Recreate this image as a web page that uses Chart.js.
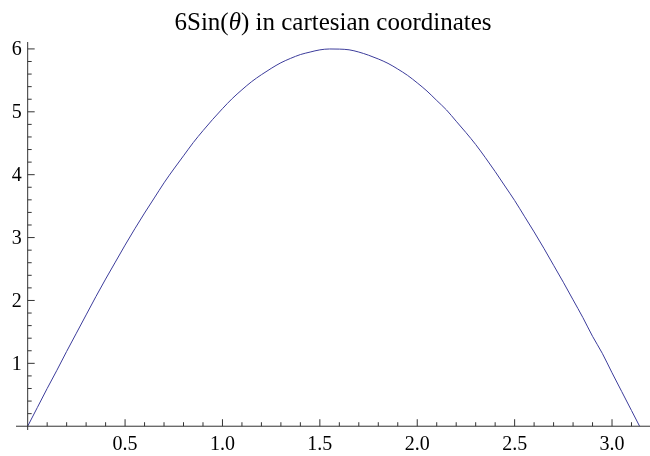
<!DOCTYPE html>
<html>
<head>
<meta charset="utf-8">
<style>
  html, body { margin: 0; padding: 0; background: #fff; }
  #wrap { width: 650px; height: 456px; position: relative; }
</style>
<script src="https://cdn.jsdelivr.net/npm/chart.js@4/dist/chart.umd.min.js"></script>
</head>
<body>
<div id="wrap"><canvas id="sinChart"></canvas></div>
<script>
// values (theta, height)
const thetaValues = [0, 0.05, 0.1, 0.15, 0.2, 0.25, 0.3, 0.35, 0.4, 0.45, 0.5, 0.55, 0.6, 0.65, 0.7, 0.75,
  0.8, 0.85, 0.9, 0.95, 1.0, 1.05, 1.1, 1.15, 1.2, 1.25, 1.3, 1.35, 1.4, 1.45, 1.5, 1.55, 1.6, 1.65,
  1.7, 1.75, 1.8, 1.85, 1.9, 1.95, 2.0, 2.05, 2.1, 2.15, 2.2, 2.25, 2.3, 2.35, 2.4, 2.45, 2.5, 2.55,
  2.6, 2.65, 2.7, 2.75, 2.8, 2.85, 2.9, 2.95, 3.0, 3.05, 3.1, 3.1416];
const heightValues = [0, 0.30, 0.60, 0.89, 1.19, 1.48, 1.77, 2.06, 2.34, 2.61, 2.88, 3.14, 3.39, 3.63, 3.87, 4.09,
  4.30, 4.51, 4.70, 4.88, 5.05, 5.21, 5.35, 5.48, 5.59, 5.69, 5.78, 5.85, 5.91, 5.95, 5.985, 5.999, 5.997, 5.986,
  5.95, 5.90, 5.84, 5.77, 5.68, 5.58, 5.46, 5.33, 5.18, 5.03, 4.85, 4.67, 4.48, 4.27, 4.05, 3.82, 3.59, 3.34,
  3.09, 2.83, 2.56, 2.29, 2.01, 1.73, 1.43, 1.16, 0.85, 0.55, 0.25, 0];

const xTickLabels = [0.5, 1.0, 1.5, 2.0, 2.5, 3.0];
const yTickLabels = [1, 2, 3, 4, 5, 6];

const titleParts = [
  { text: '6Sin(', italic: false },
  { text: 'θ', italic: true },
  { text: ') in cartesian coordinates', italic: false }
];

const points = thetaValues.map((t, i) => ({ x: t, y: heightValues[i] }));

const serif = '"Liberation Serif", "Times New Roman", serif';

// Mathematica-style axes: lines through the origin with inward ticks
const axesPlugin = {
  id: 'axesPlugin',
  afterDraw(chart) {
    const ctx = chart.ctx;
    const area = chart.chartArea;
    const xs = chart.scales.x;
    const ys = chart.scales.y;
    const x0 = xs.getPixelForValue(0);
    const y0 = ys.getPixelForValue(0);
    ctx.save();
    ctx.strokeStyle = '#333';
    ctx.lineWidth = 1;
    ctx.beginPath();
    ctx.moveTo(area.left, y0);
    ctx.lineTo(area.right, y0);
    ctx.moveTo(x0, area.top);
    ctx.lineTo(x0, area.bottom);
    // x ticks every 0.1, longer every 0.5
    for (let i = 1; i <= 31; i++) {
      const px = xs.getPixelForValue(i / 10);
      const len = i % 5 === 0 ? 7 : 4;
      ctx.moveTo(px, y0);
      ctx.lineTo(px, y0 - len);
    }
    // y ticks every 0.2, longer every 1
    for (let i = 1; i <= 30; i++) {
      const py = ys.getPixelForValue(i / 5);
      const len = i % 5 === 0 ? 7 : 4;
      ctx.moveTo(x0, py);
      ctx.lineTo(x0 + len, py);
    }
    ctx.stroke();

    // tick labels
    ctx.fillStyle = '#000';
    ctx.font = '20px ' + serif;
    ctx.textBaseline = 'alphabetic';
    ctx.textAlign = 'center';
    xTickLabels.forEach(v => {
      ctx.fillText(v.toFixed(1), xs.getPixelForValue(v), y0 + 24);
    });
    ctx.textAlign = 'right';
    yTickLabels.forEach(v => {
      ctx.fillText(String(v), x0 - 6, ys.getPixelForValue(v) + 6.5);
    });

    // title with italic theta
    const size = 25;
    const fontFor = p => (p.italic ? 'italic ' : '') + size + 'px ' + serif;
    let total = 0;
    titleParts.forEach(p => { ctx.font = fontFor(p); total += ctx.measureText(p.text).width; });
    let tx = (area.left + area.right) / 2 - total / 2;
    ctx.textAlign = 'left';
    titleParts.forEach(p => {
      ctx.font = fontFor(p);
      ctx.fillText(p.text, tx, 30);
      tx += ctx.measureText(p.text).width;
    });
    ctx.restore();
  }
};

new Chart(document.getElementById('sinChart'), {
  type: 'scatter',
  data: {
    datasets: [{
      data: points,
      showLine: true,
      borderColor: 'rgb(60, 60, 155)',
      borderWidth: 1,
      pointRadius: 0,
      cubicInterpolationMode: 'monotone',
      fill: false
    }]
  },
  options: {
    responsive: true,
    maintainAspectRatio: false,
    animation: false,
    layout: { padding: { top: 42, bottom: 26, left: 16, right: 0 } },
    plugins: {
      legend: { display: false },
      title: { display: false },
      tooltip: { enabled: false }
    },
    scales: {
      x: {
        type: 'linear',
        position: { y: 0 },
        min: -0.06,
        max: 3.195,
        afterFit: s => { s.height = 0; },
        grid: { display: false },
        border: { display: false },
        ticks: { display: false }
      },
      y: {
        type: 'linear',
        position: { x: 0 },
        min: -0.06,
        max: 6.11,
        afterFit: s => { s.width = 0; },
        grid: { display: false },
        border: { display: false },
        ticks: { display: false }
      }
    }
  },
  plugins: [axesPlugin]
});
</script>
</body>
</html>
